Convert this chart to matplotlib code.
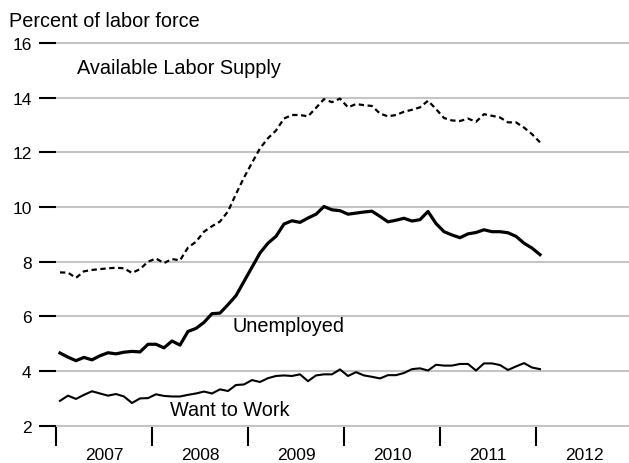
import matplotlib.pyplot as plt
import numpy as np

# помесячные данные, январь 2007 - январь 2012 (% рабочей силы)
unemployed = [4.66, 4.51, 4.38, 4.50, 4.41, 4.56, 4.67, 4.63, 4.69, 4.72, 4.70, 4.98,
              4.98, 4.85, 5.10, 4.95, 5.45, 5.56, 5.78, 6.10, 6.12, 6.43, 6.76, 7.28,
              7.80, 8.32, 8.68, 8.93, 9.38, 9.50, 9.44, 9.60, 9.74, 10.02, 9.90, 9.87,
              9.74, 9.78, 9.82, 9.85, 9.66, 9.46, 9.52, 9.59, 9.49, 9.54, 9.84, 9.40,
              9.10, 8.98, 8.88, 9.02, 9.07, 9.17, 9.10, 9.10, 9.06, 8.93, 8.68, 8.50,
              8.26]
available = [7.61, 7.60, 7.41, 7.65, 7.70, 7.73, 7.76, 7.78, 7.76, 7.59, 7.73, 8.00,
             8.12, 7.95, 8.10, 8.05, 8.52, 8.73, 9.10, 9.30, 9.47, 9.84, 10.48, 11.08,
             11.62, 12.15, 12.52, 12.80, 13.24, 13.37, 13.37, 13.32, 13.63, 13.95, 13.84, 13.97,
             13.65, 13.77, 13.73, 13.70, 13.42, 13.32, 13.37, 13.49, 13.56, 13.65, 13.89, 13.59,
             13.26, 13.17, 13.15, 13.24, 13.12, 13.40, 13.34, 13.28, 13.10, 13.10, 12.91, 12.67,
             12.37]
want_work = [2.91, 3.10, 2.98, 3.13, 3.26, 3.18, 3.10, 3.16, 3.07, 2.83, 3.00, 3.01,
             3.15, 3.09, 3.07, 3.07, 3.13, 3.18, 3.25, 3.18, 3.33, 3.27, 3.49, 3.51,
             3.67, 3.60, 3.74, 3.82, 3.84, 3.82, 3.88, 3.63, 3.84, 3.88, 3.88, 4.06,
             3.82, 3.96, 3.84, 3.79, 3.73, 3.85, 3.85, 3.93, 4.07, 4.10, 4.02, 4.23,
             4.20, 4.20, 4.26, 4.26, 4.02, 4.28, 4.28, 4.22, 4.04, 4.17, 4.29, 4.13,
             4.07]
years = ['2007', '2008', '2009', '2010', '2011', '2012']
y_ticks = [2, 4, 6, 8, 10, 12, 14, 16]

plt.rcParams['font.family'] = ['Liberation Sans', 'DejaVu Sans']

fig = plt.figure(figsize=(6.29, 4.64), dpi=100)
ax = fig.add_axes([0.089, 0.0774, 0.911, 0.8334])

# месяцы рисуем в середине месяца
months = np.arange(len(unemployed)) + 0.5

ax.plot(months, available, color='black', lw=1.6, linestyle=(0, (2.4, 1.6)))
ax.plot(months, unemployed, color='black', lw=2.3, solid_joinstyle='round')
ax.plot(months, want_work, color='black', lw=1.5)

ax.set_xlim(0, 71.625)
ax.set_ylim(1.95, 16.1)

# ось y: короткие черные засечки и серая сетка
ax.set_yticks(y_ticks)
ax.set_yticklabels([str(v) for v in y_ticks], fontsize=12.5)
ax.tick_params(axis='y', length=12.5, width=1.5, pad=5, color='black')
ax.yaxis.grid(True, color='#c4c4c4', lw=1.5)

# ось x: засечки на границах лет, подписи посередине
ax.set_xticks(np.arange(len(years)) * 12)
ax.set_xticklabels([])
ax.set_xticks(np.arange(len(years)) * 12 + 6, minor=True)
ax.set_xticklabels(years, minor=True, fontsize=12.5)
ax.tick_params(axis='x', which='major', length=13.5, width=1.5, direction='out')
ax.tick_params(axis='x', which='minor', length=0, pad=14)

for s in ax.spines.values():
    s.set_visible(False)

ax.text(2.6, 15.12, 'Available Labor Supply', fontsize=14.3, va='center', ha='left')
ax.text(22.1, 5.65, 'Unemployed', fontsize=14.3, va='center', ha='left')
ax.text(14.25, 2.58, 'Want to Work', fontsize=14.3, va='center', ha='left')

fig.text(9 / 629, 1 - 27.3 / 464, 'Percent of labor force', fontsize=14.3, va='baseline', ha='left')

fig.savefig('out.png', dpi=100)
